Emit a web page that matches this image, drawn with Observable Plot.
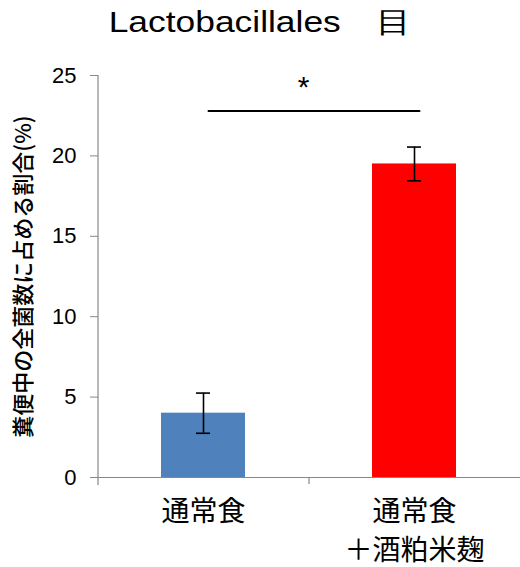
<!DOCTYPE html>
<html>
<head>
<meta charset="utf-8">
<script src="https://cdn.jsdelivr.net/npm/d3@7"></script>
<script src="https://cdn.jsdelivr.net/npm/@observablehq/plot@0.6"></script>
<style>
  html, body { margin: 0; padding: 0; background: #fff; }
  #title {
    width: 520px; height: 42px; padding-top: 8px;
    text-align: center; font-family: "Liberation Sans", Arial, sans-serif;
    font-size: 29px; line-height: 29px; color: #000; white-space: nowrap;
  }
  #title span { display: inline-block; transform: scaleX(1.22); transform-origin: center; }
</style>
</head>
<body>
<div id="title"><span>Lactobacillales　目</span></div>
<div id="chart"></div>
<script>
const titleText = "Lactobacillales　目";
const categories = ["通常食", "通常食\n＋酒粕米麹"];
const means = [4.0, 19.5];
const errors = [1.25, 1.05];
const barColors = ["#4F81BD", "#FF0000"];
const yTicks = [0, 5, 10, 15, 20, 25];
const yLabel = "糞便中の全菌数に占める割合(%)";
const sigLevel = 22.8;
const sigMark = "*";
const sigMarkY = 24.2;

const data = categories.map((c, i) => ({cat: c, mean: means[i], err: errors[i], color: barColors[i]}));

const W = 520, H = 517, mL = 98, mR = 0;
const halfStep = (W - mL - mR) / categories.length / 2;
const axisGray = "#888888";

const chart = Plot.plot({
  width: W,
  height: H,
  marginLeft: mL,
  marginRight: mR,
  marginTop: 25,
  marginBottom: 90,
  style: {background: "#fff", color: "#000", fontFamily: "'Liberation Sans', Arial, sans-serif"},
  x: {domain: categories, paddingInner: 0.6, paddingOuter: 0.3, axis: null},
  y: {domain: [0, 25], axis: null},
  color: {type: "identity"},
  marks: [
    Plot.barY(data, {x: "cat", y: "mean", fill: "color"}),
    // baseline (x axis)
    Plot.ruleY([0], {stroke: axisGray, strokeWidth: 1.2}),
    // y axis line
    Plot.ruleX([categories[0]], {y1: 25, y2: 0, dx: -halfStep, insetBottom: -8, stroke: axisGray, strokeWidth: 1.2}),
    // category boundary tick
    Plot.ruleX([categories[1]], {y1: 0, y2: 0, dx: -halfStep, insetBottom: -7, stroke: axisGray, strokeWidth: 1.2}),
    Plot.axisY(yTicks, {
      tickSize: 8, tickPadding: 14, stroke: axisGray, fill: "#000",
      fontSize: 22, label: null, fontFamily: "'Liberation Sans', Arial, sans-serif"
    }),
    // error bars
    Plot.ruleX(data, {x: "cat", y1: d => d.mean - d.err, y2: d => d.mean + d.err, stroke: "#000", strokeWidth: 1.6}),
    Plot.tickY(data, {x: "cat", y: d => d.mean + d.err, insetLeft: 35, insetRight: 35, stroke: "#000", strokeWidth: 1.6}),
    Plot.tickY(data, {x: "cat", y: d => d.mean - d.err, insetLeft: 35, insetRight: 35, stroke: "#000", strokeWidth: 1.6}),
    // significance
    Plot.line(categories, {x: d => d, y: () => sigLevel, dx: 5, stroke: "#000", strokeWidth: 2}),
    Plot.text([sigMark], {y: () => sigMarkY, text: d => d, dx: -6, dy: -1, fontSize: 30, fill: "#000"}),
    // x labels
    Plot.text(categories, {x: d => d, text: d => d, frameAnchor: "bottom", lineAnchor: "top", dy: 15,
      lineHeight: 1.42, fontSize: 28, fill: "#000", fontFamily: "'Noto Sans CJK JP', sans-serif"}),
    // y label
    Plot.text([yLabel], {frameAnchor: "left", textAnchor: "middle", lineAnchor: "middle", text: d => d, rotate: -90, dx: -75, fontSize: 22,
      fontWeight: 500, fill: "#000", fontFamily: "'Noto Sans CJK JP', sans-serif"})
  ]
});
document.getElementById("chart").appendChild(chart);
</script>
</body>
</html>
